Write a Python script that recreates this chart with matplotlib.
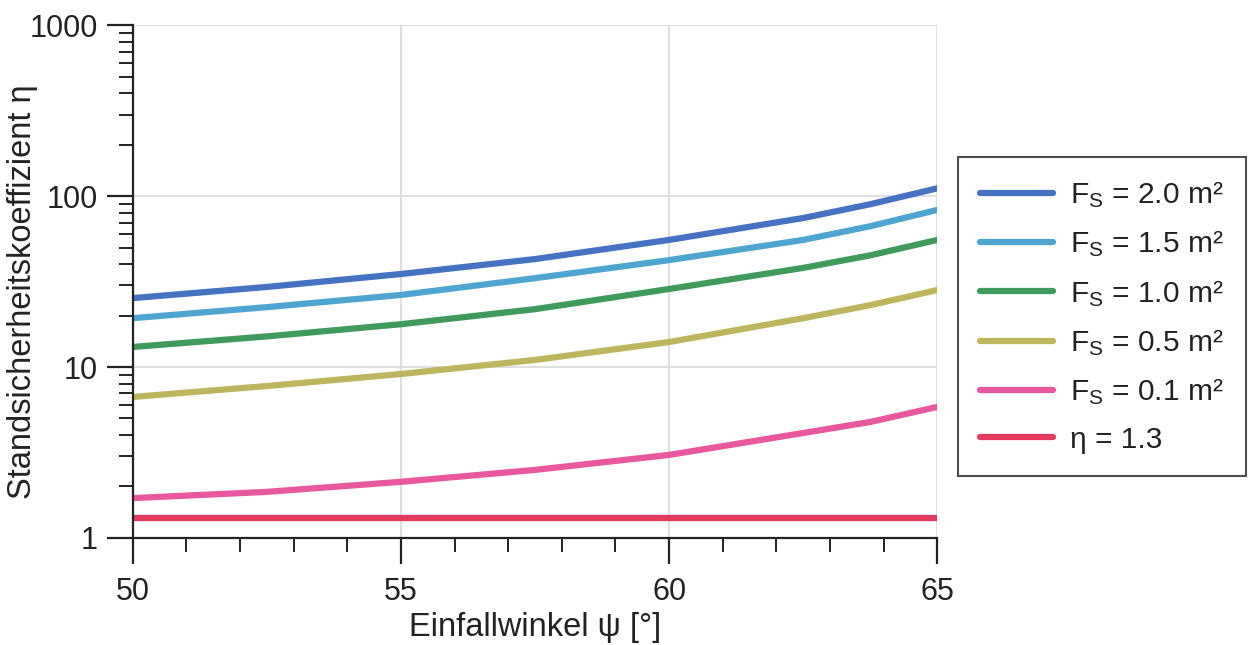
import matplotlib
matplotlib.use("Agg")
import matplotlib.pyplot as plt
from matplotlib.ticker import FixedLocator, NullFormatter, LogLocator

plt.rcParams["font.family"] = ["Liberation Sans", "DejaVu Sans"]
plt.rcParams["mathtext.fontset"] = "custom"
plt.rcParams["mathtext.rm"] = "Liberation Sans"
plt.rcParams["mathtext.it"] = "Liberation Sans"

# Dip angle (degrees)
angle = [50, 52.5, 55, 57.5, 60, 62.5, 63.75, 65]

# Safety factor for different shear areas F_S
eta_fs_20 = [25.3, 29.4, 35.0, 42.8, 55.4, 74.4, 89.6, 111.0]
eta_fs_15 = [19.3, 22.4, 26.4, 33.1, 42.2, 55.4, 66.6, 83.0]
eta_fs_10 = [13.1, 15.1, 17.8, 21.8, 28.6, 38.0, 45.0, 55.4]
eta_fs_05 = [6.68, 7.74, 9.1, 11.0, 14.0, 19.3, 23.0, 28.2]
eta_fs_01 = [1.71, 1.86, 2.13, 2.50, 3.06, 4.11, 4.77, 5.84]
eta_required = 1.3

series_labels = [
    r"F$_\mathrm{S}$ = 2.0 m²",
    r"F$_\mathrm{S}$ = 1.5 m²",
    r"F$_\mathrm{S}$ = 1.0 m²",
    r"F$_\mathrm{S}$ = 0.5 m²",
    r"F$_\mathrm{S}$ = 0.1 m²",
]
required_label = "η = 1.3"
colors = ["#4672c2", "#4ea6d0", "#3f9a5c", "#bdb65e", "#e8589e"]
required_color = "#e43a60"

fig = plt.figure(figsize=(12.53, 6.45), dpi=100)
ax = fig.add_axes([0.106, 0.166, 0.642, 0.795])

lw = 4.5
for vals, lab, col in zip(
    [eta_fs_20, eta_fs_15, eta_fs_10, eta_fs_05, eta_fs_01], series_labels, colors
):
    ax.plot(angle, vals, color=col, lw=lw, label=lab, solid_capstyle="round")
ax.plot([angle[0], angle[-1]], [eta_required, eta_required], color=required_color,
        lw=lw, label=required_label, solid_capstyle="round")

ax.set_yscale("log")
ax.set_xlim(50, 65)
ax.set_ylim(1, 1000)

ax.xaxis.set_major_locator(FixedLocator([50, 55, 60, 65]))
ax.xaxis.set_minor_locator(FixedLocator(range(50, 66)))
ax.yaxis.set_major_locator(FixedLocator([1, 10, 100, 1000]))
ax.yaxis.set_minor_locator(LogLocator(base=10, subs=range(2, 10)))
ax.yaxis.set_minor_formatter(NullFormatter())
ax.set_yticklabels(["1", "10", "100", "1000"])

ax.tick_params(axis="both", which="major", direction="out", length=19, width=1.6,
               labelsize=22, colors="#222222", pad=6)
ax.tick_params(axis="both", which="minor", direction="out", length=10, width=1.4,
               colors="#222222")
ax.tick_params(axis="x", which="major", pad=9)

ax.grid(True, which="major", color="#dcdcdc", lw=1.3)
ax.set_axisbelow(True)
for side in ["top", "right"]:
    ax.spines[side].set_visible(False)
for side in ["left", "bottom"]:
    ax.spines[side].set_linewidth(1.6)
    ax.spines[side].set_color("#222222")

ax.set_xlabel("Einfallwinkel ψ [°]", fontsize=23.5, color="#222222", labelpad=4)
ax.set_ylabel("Standsicherheitskoeffizient η", fontsize=23.5, color="#222222")
ax.yaxis.set_label_coords(-0.118, 0.48)

leg = fig.legend(loc="upper left", bbox_to_anchor=(0.7645, 0.757), fontsize=21.5,
                 frameon=True, fancybox=False, handlelength=2.45, handletextpad=0.55,
                 labelspacing=0.62, borderpad=0.75, borderaxespad=0)
leg.get_frame().set_edgecolor("#222222")
leg.get_frame().set_linewidth(1.5)
for t in leg.get_texts():
    t.set_color("#222222")

fig.savefig("out.png", dpi=100)
